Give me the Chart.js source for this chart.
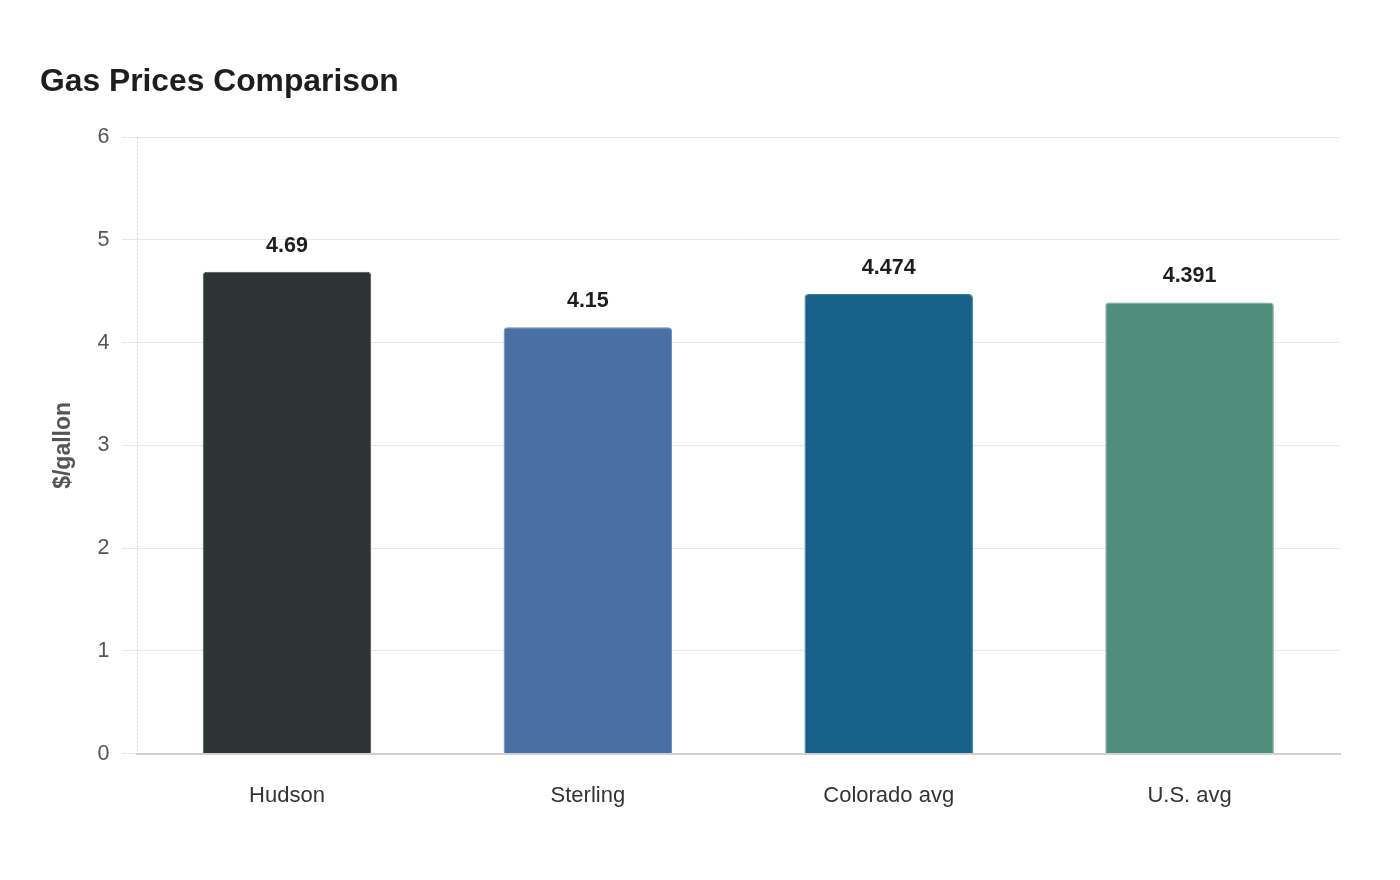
<!DOCTYPE html>
<html>
<head>
<meta charset="utf-8">
<script src="https://cdn.jsdelivr.net/npm/chart.js@4"></script>
<style>
  html, body { margin: 0; padding: 0; background: #ffffff; }
  #wrap { width: 1400px; height: 880px; position: relative; }
</style>
</head>
<body>
<div id="wrap"><canvas id="c" width="1400" height="880"></canvas></div>
<script>
const categories = ["Hudson", "Sterling", "Colorado avg", "U.S. avg"];
const prices = [4.69, 4.15, 4.474, 4.391];
const labelsText = ["4.69", "4.15", "4.474", "4.391"];
const yTicks = [0, 1, 2, 3, 4, 5, 6];
const barColors = ["#2d3436", "#4a6fa5", "#18628a", "#4e8e7b"];
const borderColors = ["#4a5254", "#6a8abb", "#3a7ca0", "#6aa392"];

const valueLabels = {
  id: 'valueLabels',
  afterDatasetsDraw(chart) {
    const ctx = chart.ctx;
    const meta = chart.getDatasetMeta(0);
    ctx.save();
    ctx.font = 'bold 21.5px "Liberation Sans", Arial, sans-serif';
    ctx.fillStyle = '#1e1e1e';
    ctx.textAlign = 'center';
    ctx.textBaseline = 'alphabetic';
    meta.data.forEach((bar, i) => {
      ctx.fillText(labelsText[i], bar.x, bar.y - 20);
    });
    ctx.restore();
  }
};

const dashedYAxis = {
  id: 'dashedYAxis',
  beforeDatasetsDraw(chart) {
    const a = chart.chartArea;
    const ctx = chart.ctx;
    ctx.save();
    ctx.strokeStyle = '#cfcfcf';
    ctx.lineWidth = 1;
    ctx.setLineDash([2, 2]);
    ctx.beginPath();
    const x = Math.round(a.left) + 0.5;
    ctx.moveTo(x, a.top);
    ctx.lineTo(x, a.bottom);
    ctx.stroke();
    ctx.restore();
  }
};

new Chart(document.getElementById('c'), {
  type: 'bar',
  data: {
    labels: categories,
    datasets: [{
      data: prices,
      backgroundColor: barColors,
      borderColor: borderColors,
      borderWidth: 1,
      borderRadius: { topLeft: 4, topRight: 4, bottomLeft: 0, bottomRight: 0 },
      borderSkipped: 'bottom',
      categoryPercentage: 0.7,
      barPercentage: 0.8
    }]
  },
  options: {
    responsive: false,
    animation: false,
    devicePixelRatio: 1,
    layout: { padding: { left: 40, right: 60, top: 42, bottom: 50 } },
    plugins: {
      legend: { display: false },
      tooltip: { enabled: false },
      title: {
        display: true,
        text: 'Gas Prices Comparison',
        align: 'start',
        color: '#1e1e1e',
        font: { family: '"Liberation Sans", Arial, sans-serif', size: 31.8, weight: 'bold' },
        padding: { top: 21, bottom: 36 }
      }
    },
    scales: {
      x: {
        grid: { display: false },
        border: { display: true, color: '#d0d0d0', width: 2 },
        ticks: {
          color: '#333333',
          padding: 21,
          font: { family: '"Liberation Sans", Arial, sans-serif', size: 22 }
        }
      },
      y: {
        min: 0,
        max: 6,
        afterBuildTicks(scale) { scale.ticks = yTicks.map(v => ({ value: v })); },
        grid: { color: '#e8e8e8', lineWidth: 1, tickLength: 15 },
        border: { display: false },
        ticks: {
          color: '#555555',
          padding: 12,
          font: { family: '"Liberation Sans", Arial, sans-serif', size: 21.5 }
        },
        title: {
          display: true,
          text: '$/gallon',
          color: '#555555',
          font: { family: '"Liberation Sans", Arial, sans-serif', size: 23, weight: 'bold' },
          padding: { top: 10, bottom: 8 }
        }
      }
    }
  },
  plugins: [valueLabels, dashedYAxis]
});
</script>
</body>
</html>
